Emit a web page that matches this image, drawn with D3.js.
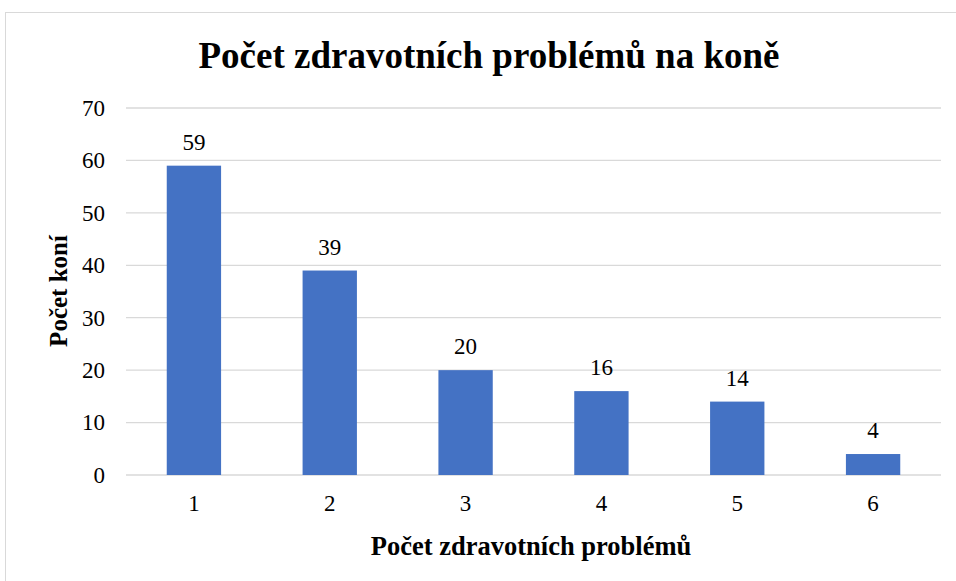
<!DOCTYPE html>
<html>
<head>
<meta charset="UTF-8">
<script src="https://d3js.org/d3.v7.min.js"></script>
<style>
  body { margin: 0; background: #fff; }
</style>
</head>
<body>
<script>
const categories = ['1', '2', '3', '4', '5', '6'];
const values = [59, 39, 20, 16, 14, 4];
const yTicks = [0, 10, 20, 30, 40, 50, 60, 70];

const width = 956, height = 581;
const plotLeft = 126, plotRight = 941, plotTop = 108, plotBottom = 475;
const serif = "'Liberation Serif', 'Times New Roman', serif";

const svg = d3.select('body').append('svg')
  .attr('width', width).attr('height', height);

svg.append('rect')
  .attr('x', 5.5).attr('y', 12.5)
  .attr('width', 960).attr('height', 580)
  .attr('fill', '#fff').attr('stroke', '#d9d9d9');

const x = d3.scaleBand().domain(categories).range([plotLeft, plotRight]).paddingInner(0.6).paddingOuter(0.3);
const y = d3.scaleLinear().domain([0, 70]).range([plotBottom, plotTop]);

// gridlines
svg.append('g').selectAll('line')
  .data(yTicks).enter().append('line')
  .attr('x1', plotLeft).attr('x2', plotRight)
  .attr('y1', d => y(d)).attr('y2', d => y(d))
  .attr('stroke', '#d9d9d9').attr('stroke-width', 1.3);

// y axis
const yAxis = svg.append('g')
  .attr('transform', 'translate(' + plotLeft + ',0)')
  .call(d3.axisLeft(y).tickValues(yTicks).tickSize(0).tickPadding(21));
yAxis.select('.domain').remove();
yAxis.selectAll('text').style('font-size', '23px').style('font-family', serif).attr('fill', '#000');

// x axis
const xAxis = svg.append('g')
  .attr('transform', 'translate(0,' + plotBottom + ')')
  .call(d3.axisBottom(x).tickSize(0).tickPadding(20));
xAxis.select('.domain').remove();
xAxis.selectAll('text').style('font-size', '23px').style('font-family', serif).attr('fill', '#000');

// bars
svg.append('g').selectAll('rect')
  .data(values).enter().append('rect')
  .attr('x', (d, i) => x(categories[i]))
  .attr('y', d => y(d))
  .attr('width', x.bandwidth())
  .attr('height', d => y(0) - y(d))
  .attr('fill', '#4472c4');

// data labels
svg.append('g').selectAll('text')
  .data(values).enter().append('text')
  .attr('x', (d, i) => x(categories[i]) + x.bandwidth() / 2)
  .attr('y', d => y(d) - 16)
  .attr('text-anchor', 'middle')
  .style('font-size', '23px').style('font-family', serif)
  .text(d => d);

svg.append('text')
  .attr('x', 489).attr('y', 68)
  .attr('text-anchor', 'middle')
  .style('font-size', '37px').style('font-weight', 'bold').style('font-family', serif)
  .text('Počet zdravotních problémů na koně');

svg.append('text')
  .attr('transform', 'translate(67,291) rotate(-90)')
  .attr('text-anchor', 'middle')
  .style('font-size', '25px').style('font-weight', 'bold').style('font-family', serif)
  .text('Počet koní');

svg.append('text')
  .attr('x', 531).attr('y', 555)
  .attr('text-anchor', 'middle')
  .style('font-size', '26.5px').style('font-weight', 'bold').style('font-family', serif)
  .text('Počet zdravotních problémů');
</script>
</body>
</html>
